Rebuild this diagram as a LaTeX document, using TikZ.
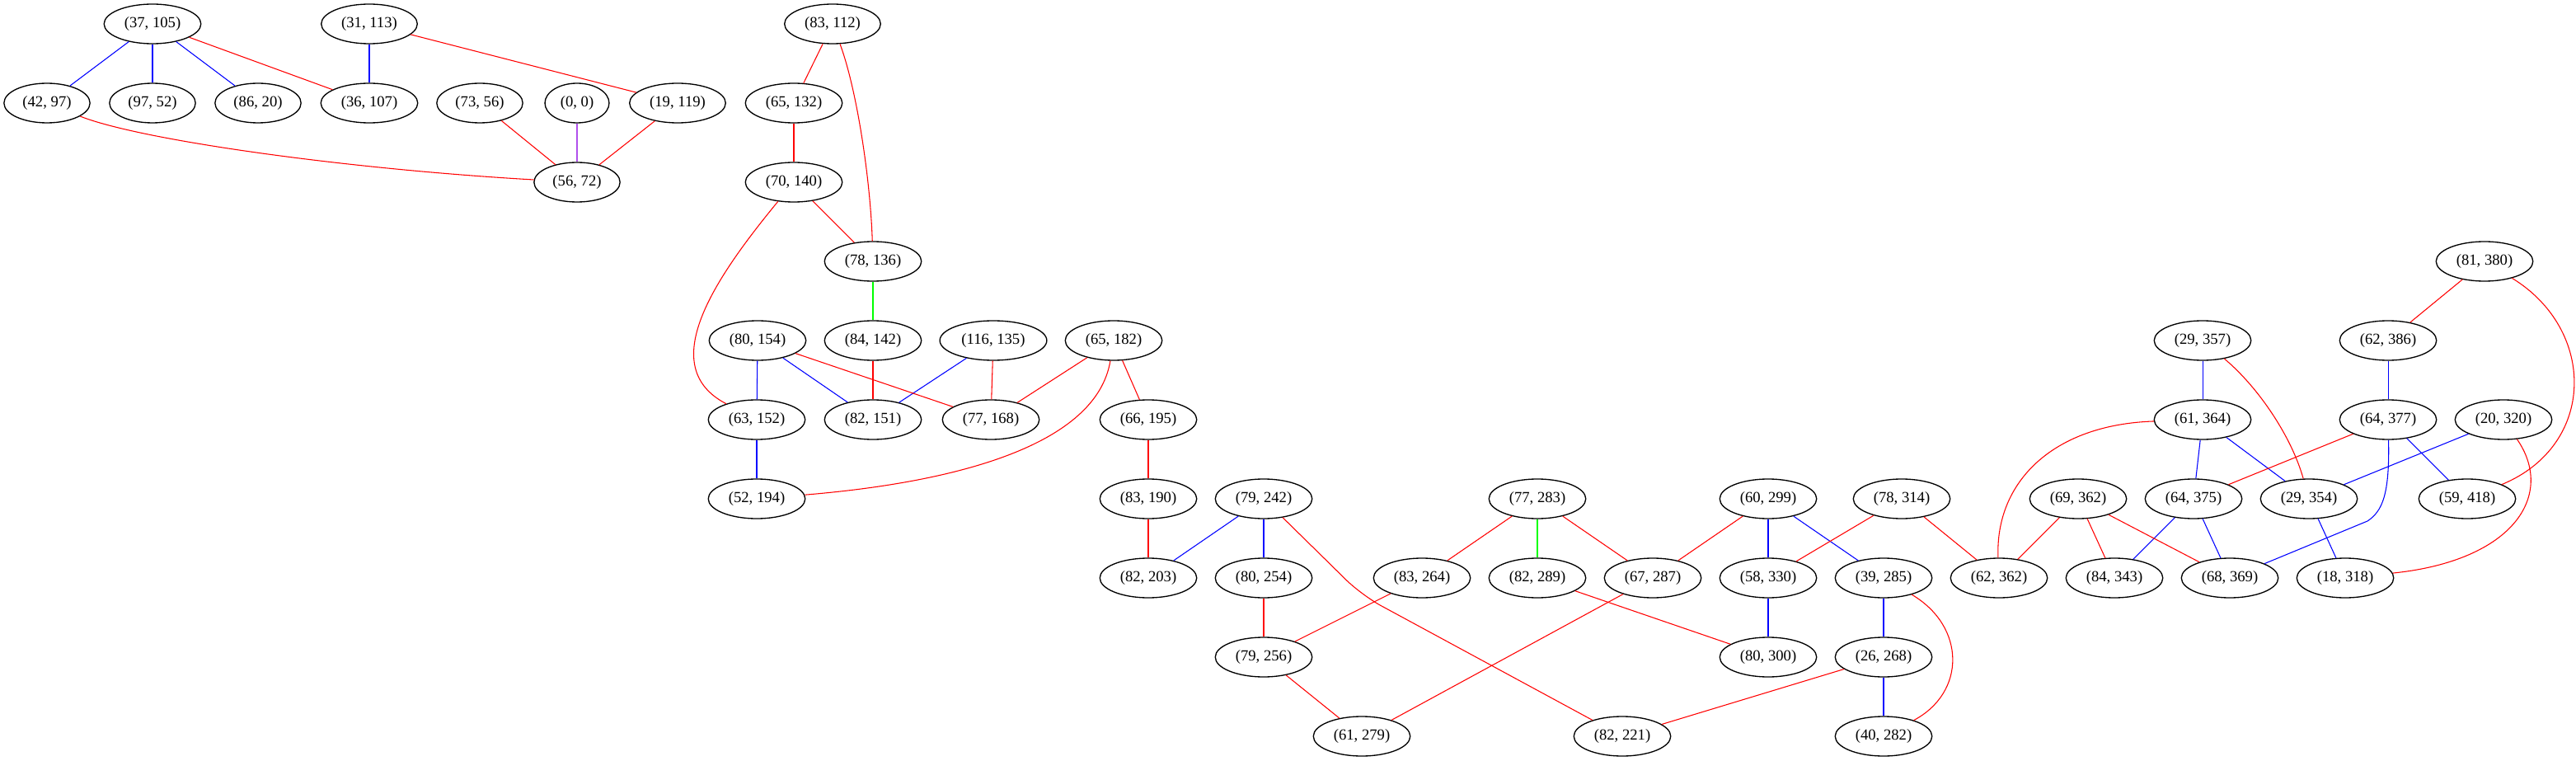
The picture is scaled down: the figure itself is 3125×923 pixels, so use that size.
\documentclass[tikz,border=0pt]{standalone}
\usepackage{fontspec}
\setmainfont{Liberation Serif}
\usetikzlibrary{shapes.geometric}
\definecolor{edgered}{RGB}{255,0,0}
\definecolor{edgeblue}{RGB}{0,0,255}
\definecolor{edgegreen}{RGB}{0,255,0}
\definecolor{edgepurple}{RGB}{176,80,236}

\begin{document}
\begin{tikzpicture}[x=0.75pt, y=-0.75pt,
  vtx/.style={ellipse, draw, line width=1pt, inner xsep=5.5pt, inner ysep=2pt,
    minimum width=54pt, minimum height=36pt, font=\fontsize{14}{16}\selectfont},
  ed/.style={line width=0.8pt}]
  \useasboundingbox (0,0) rectangle (3125,923);

  % Vertices (name/x/y/label), one rank every 96px
  \foreach \nm/\px/\py/\lbl in {
    a37x105/185/29/{(37, 105)}, a31x113/448/29/{(31, 113)}, a83x112/1010/29/{(83, 112)},
    a42x97/57/125/{(42, 97)}, a97x52/185/125/{(97, 52)}, a86x20/313/125/{(86, 20)},
    a36x107/448/125/{(36, 107)}, a73x56/582/125/{(73, 56)}, a0x0/700/125/{(0, 0)},
    a19x119/822/125/{(19, 119)}, a65x132/963/125/{(65, 132)},
    a56x72/700/221/{(56, 72)}, a70x140/963/221/{(70, 140)},
    a78x136/1059/317/{(78, 136)}, a81x380/3014/317/{(81, 380)},
    a80x154/919/413/{(80, 154)}, a84x142/1059/413/{(84, 142)}, a116x135/1205/413/{(116, 135)},
    a65x182/1351/413/{(65, 182)}, a29x357/2672/413/{(29, 357)}, a62x386/2897/413/{(62, 386)},
    a63x152/918/509/{(63, 152)}, a82x151/1059/509/{(82, 151)}, a77x168/1202/509/{(77, 168)},
    a66x195/1393/509/{(66, 195)}, a61x364/2672/509/{(61, 364)}, a64x377/2897/509/{(64, 377)},
    a20x320/3037/509/{(20, 320)},
    a52x194/918/605/{(52, 194)}, a83x190/1393/605/{(83, 190)}, a79x242/1533/605/{(79, 242)},
    a77x283/1865/605/{(77, 283)}, a60x299/2145/605/{(60, 299)}, a78x314/2307/605/{(78, 314)},
    a69x362/2521/605/{(69, 362)}, a64x375/2661/605/{(64, 375)}, a29x354/2801/605/{(29, 354)},
    a59x418/2993/605/{(59, 418)},
    a82x203/1393/701/{(82, 203)}, a80x254/1533/701/{(80, 254)}, a83x264/1725/701/{(83, 264)},
    a82x289/1865/701/{(82, 289)}, a67x287/2005/701/{(67, 287)}, a58x330/2145/701/{(58, 330)},
    a39x285/2285/701/{(39, 285)}, a62x362/2425/701/{(62, 362)}, a84x343/2565/701/{(84, 343)},
    a68x369/2705/701/{(68, 369)}, a18x318/2845/701/{(18, 318)},
    a79x256/1533/797/{(79, 256)}, a80x300/2145/797/{(80, 300)}, a26x268/2285/797/{(26, 268)},
    a61x279/1652/893/{(61, 279)}, a82x221/1968/893/{(82, 221)}, a40x282/2285/893/{(40, 282)}
  } {
    \node[vtx] (\nm) at (\px,\py) {\lbl};
  }

  % Blue edges
  \foreach \a/\b in {a37x105/a42x97, a37x105/a97x52, a37x105/a86x20, a31x113/a36x107,
    a80x154/a63x152, a80x154/a82x151, a116x135/a82x151, a63x152/a52x194,
    a79x242/a82x203, a79x242/a80x254, a60x299/a58x330, a60x299/a39x285,
    a58x330/a80x300, a39x285/a26x268, a26x268/a40x282,
    a29x357/a61x364, a62x386/a64x377, a61x364/a64x375, a61x364/a29x354,
    a64x377/a59x418, a20x320/a29x354, a64x375/a84x343, a64x375/a68x369,
    a29x354/a18x318} {
    \draw[ed, edgeblue] (\a) -- (\b);
  }

  % Red edges (straight)
  \foreach \a/\b in {a37x105/a36x107, a31x113/a19x119, a73x56/a56x72, a19x119/a56x72,
    a83x112/a65x132, a65x132/a70x140, a70x140/a78x136, a80x154/a77x168,
    a84x142/a82x151, a116x135/a77x168, a65x182/a77x168, a65x182/a66x195,
    a66x195/a83x190, a83x190/a82x203, a80x254/a79x256, a83x264/a79x256,
    a79x256/a61x279, a77x283/a83x264, a77x283/a67x287, a82x289/a80x300,
    a67x287/a61x279, a60x299/a67x287, a78x314/a58x330, a78x314/a62x362,
    a26x268/a82x221, a81x380/a62x386, a64x377/a64x375,
    a69x362/a62x362, a69x362/a84x343, a69x362/a68x369} {
    \draw[ed, edgered] (\a) -- (\b);
  }

  % Red edges (curved)
  \draw[ed, edgered] (a42x97) .. controls (170,170) and (420,205) .. (a56x72);
  \draw[ed, edgered] (a83x112) .. controls (1040,110) and (1056,220) .. (a78x136);
  \draw[ed, edgered] (a70x140) .. controls (865,340) and (795,445) .. (a63x152);
  \draw[ed, edgered] (a65x182) .. controls (1330,540) and (1160,585) .. (a52x194);
  \draw[ed, edgered, rounded corners=20pt] (a79x242) -- (1652,722) -- (a82x221);
  \draw[ed, edgered] (a39x285) .. controls (2385,760) and (2385,840) .. (a40x282);
  \draw[ed, edgered] (a81x380) .. controls (3150,400) and (3150,540) .. (a59x418);
  \draw[ed, edgered] (a29x357) .. controls (2740,470) and (2780,530) .. (a29x354);
  \draw[ed, edgered] (a61x364) .. controls (2490,515) and (2420,585) .. (a62x362);
  \draw[ed, edgered] (a20x320) .. controls (3100,600) and (3050,680) .. (a18x318);

  % Blue edge (curved)
  \draw[ed, edgeblue] (a64x377) .. controls (2899,600) and (2890,620) .. (2872,632) -- (a68x369);

  % Green and purple edges
  \draw[ed, edgegreen] (a78x136) -- (a84x142);
  \draw[ed, edgegreen] (a77x283) -- (a82x289);
  \draw[ed, edgepurple] (a0x0) -- (a56x72);
\end{tikzpicture}
\end{document}
